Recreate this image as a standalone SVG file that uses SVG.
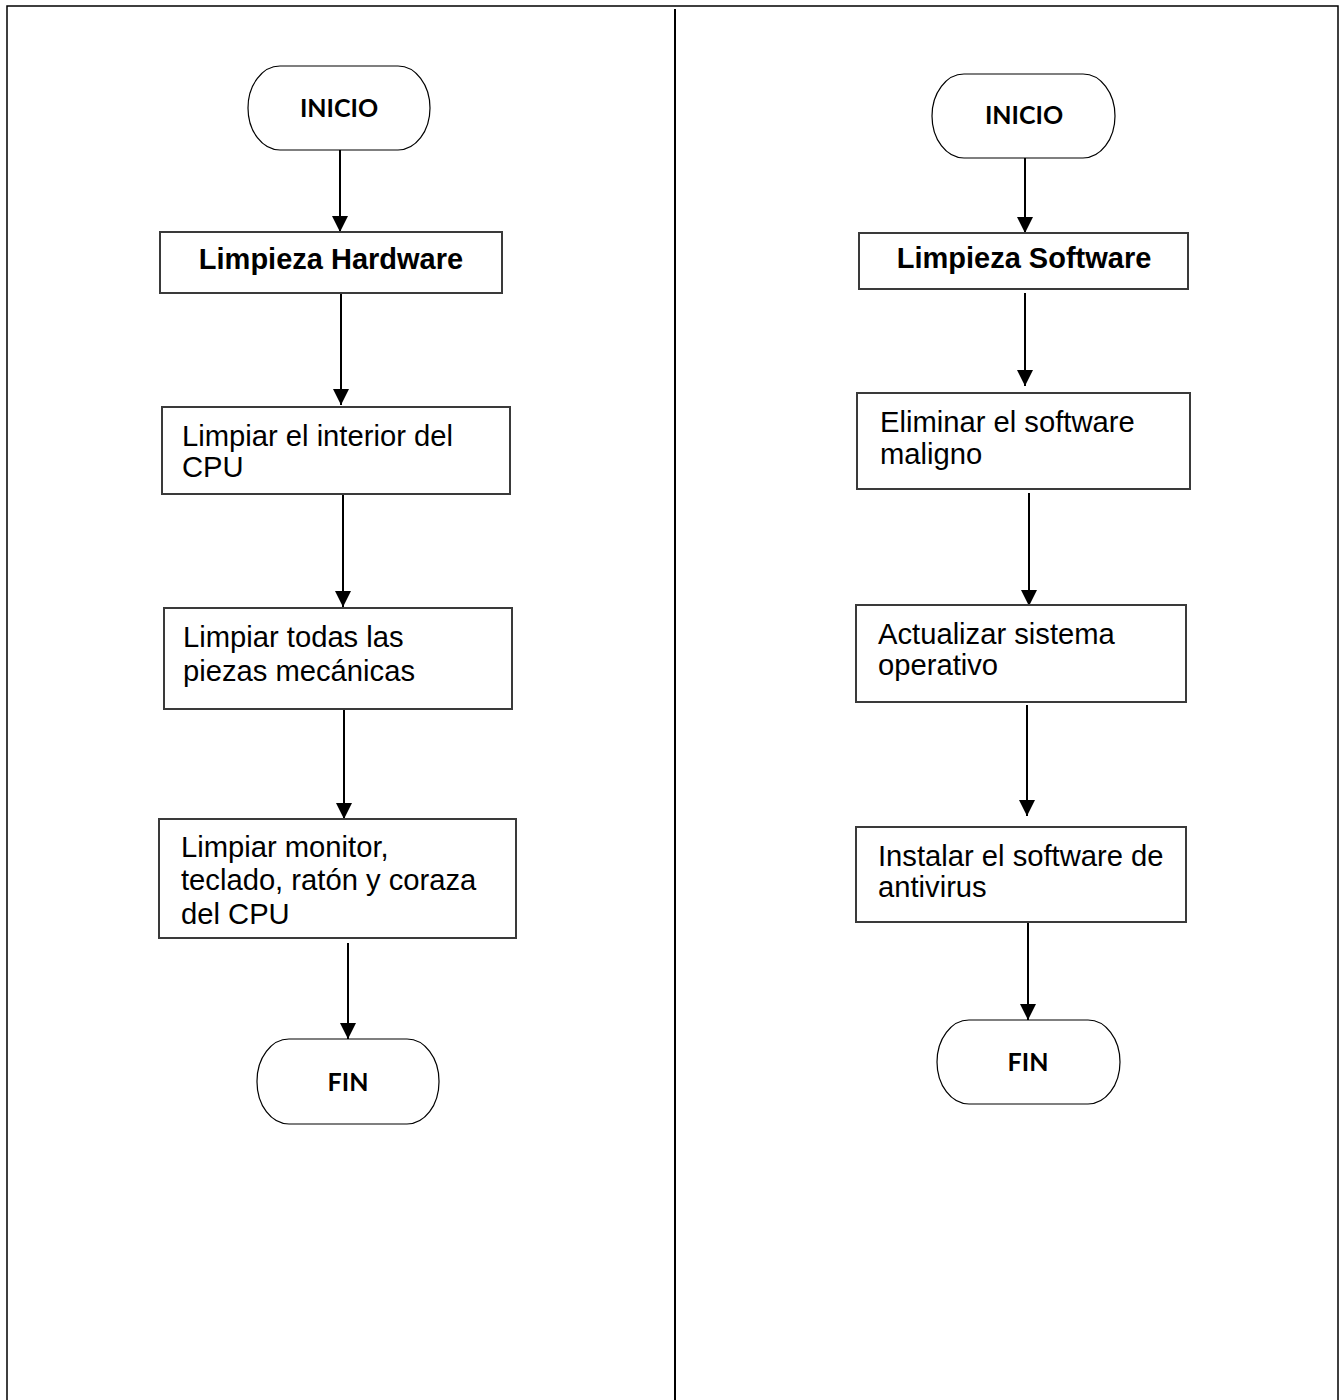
<svg xmlns="http://www.w3.org/2000/svg" width="1340" height="1400" viewBox="0 0 1340 1400">
<style>
.box{fill:#fff;stroke:#3a3a3a;stroke-width:2}
.term{fill:#fff;stroke:#000;stroke-width:1.2}
.tt{font-family:Lato,"Open Sans",sans-serif;font-weight:bold;font-size:25px;fill:#000;text-anchor:middle}
.bt{font-family:"Liberation Sans",Arial,sans-serif;font-weight:bold;font-size:29px;fill:#000;text-anchor:middle}
.nt{font-family:"Liberation Sans",Arial,sans-serif;font-size:29.2px;fill:#000}
.arr{stroke:#000;stroke-width:2;fill:none;marker-end:url(#ah)}
.frame{stroke:#000;stroke-width:1.5;fill:none}
</style>
<defs>
<marker id="ah" markerUnits="userSpaceOnUse" markerWidth="16" markerHeight="16" refX="15" refY="7.5" orient="auto" viewBox="0 0 15 15">
<path d="M0,0 L15,7.5 L0,15 z" fill="#000"/>
</marker>
</defs>
<rect width="1340" height="1400" fill="#fff"/>
<g id="frame">
<path class="frame" d="M7,1400 V6 H1338 V1400"/>
<path class="frame" style="stroke-width:2" d="M675,9 V1400"/>
</g>
<g id="connectors">
<path class="arr" d="M340,150 V232"/>
<path class="arr" d="M341,293 V405"/>
<path class="arr" d="M343,494 V607"/>
<path class="arr" d="M344,709 V819"/>
<path class="arr" d="M348,943 V1039"/>
<path class="arr" d="M1025,158 V233"/>
<path class="arr" d="M1025,293 V386"/>
<path class="arr" d="M1029,493 V606"/>
<path class="arr" d="M1027,705 V816"/>
<path class="arr" d="M1028,923 V1020"/>
</g>
<g id="inicio-hw">
<rect class="term" x="248" y="66" width="182" height="84" rx="32" ry="42"/>
<text class="tt" x="339" y="117">INICIO</text>
</g>
<g id="limpieza-hardware">
<rect class="box" x="160" y="232" width="342" height="61"/>
<text class="bt" x="331" y="269">Limpieza Hardware</text>
</g>
<g id="limpiar-interior">
<rect class="box" x="162" y="407" width="348" height="87"/>
<text class="nt" x="182" y="446">Limpiar el interior del</text>
<text class="nt" x="182" y="477">CPU</text>
</g>
<g id="limpiar-piezas">
<rect class="box" x="164" y="608" width="348" height="101"/>
<text class="nt" x="183" y="647">Limpiar todas las</text>
<text class="nt" x="183" y="681">piezas mecánicas</text>
</g>
<g id="limpiar-monitor">
<rect class="box" x="159" y="819" width="357" height="119"/>
<text class="nt" x="181" y="857">Limpiar monitor,</text>
<text class="nt" x="181" y="890">teclado, ratón y coraza</text>
<text class="nt" x="181" y="924">del CPU</text>
</g>
<g id="fin-hw">
<rect class="term" x="257" y="1039" width="182" height="85" rx="32" ry="42"/>
<text class="tt" x="348" y="1091">FIN</text>
</g>
<g id="inicio-sw">
<rect class="term" x="932" y="74" width="183" height="84" rx="32" ry="42"/>
<text class="tt" x="1024" y="124">INICIO</text>
</g>
<g id="limpieza-software">
<rect class="box" x="859" y="233" width="329" height="56"/>
<text class="bt" x="1024" y="268">Limpieza Software</text>
</g>
<g id="eliminar">
<rect class="box" x="857" y="393" width="333" height="96"/>
<text class="nt" x="880" y="432">Eliminar el software</text>
<text class="nt" x="880" y="464">maligno</text>
</g>
<g id="actualizar">
<rect class="box" x="856" y="605" width="330" height="97"/>
<text class="nt" x="878" y="644">Actualizar sistema</text>
<text class="nt" x="878" y="675">operativo</text>
</g>
<g id="instalar">
<rect class="box" x="856" y="827" width="330" height="95"/>
<text class="nt" x="878" y="866">Instalar el software de</text>
<text class="nt" x="878" y="897">antivirus</text>
</g>
<g id="fin-sw">
<rect class="term" x="937" y="1020" width="183" height="84" rx="32" ry="42"/>
<text class="tt" x="1028" y="1071">FIN</text>
</g>
</svg>
